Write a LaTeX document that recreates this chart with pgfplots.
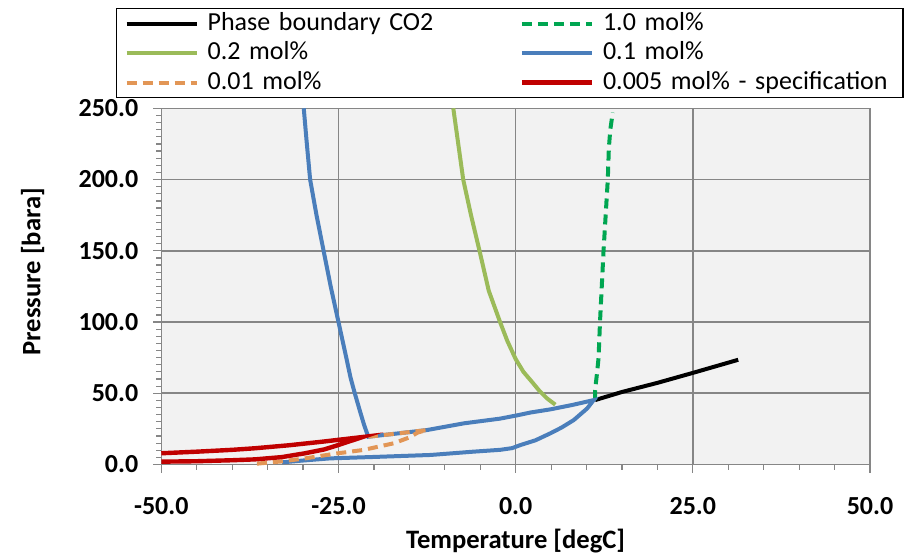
\documentclass[border=0pt]{standalone}
\usepackage{fontspec}
\setmainfont{Carlito}
\usepackage{pgfplots}
\pgfplotsset{compat=1.18}
\definecolor{gridgray}{RGB}{134,134,134}
\definecolor{bgcol}{RGB}{242,242,242}
\definecolor{cgreen}{RGB}{0,166,81}
\definecolor{colive}{RGB}{155,187,89}
\definecolor{cblue}{RGB}{74,126,187}
\definecolor{corange}{RGB}{226,150,86}
\definecolor{cred}{RGB}{192,0,0}
\begin{document}
\begin{tikzpicture}
\useasboundingbox (0,0) rectangle (454pt,276.5pt);
\begin{axis}[
  at={(80.65pt,44.25pt)}, anchor=south west,
  scale only axis, width=354.35pt, height=178.1pt,
  xmin=-50, xmax=50, ymin=0, ymax=250,
  xtick={-50,-25,0,25,50}, ytick={0,50,100,150,200,250},
  minor x tick num=4, minor y tick num=9,
  tick align=outside, xtick pos=bottom, ytick pos=left,
  major tick length=4pt, minor tick length=2.5pt,
  every tick/.style={gridgray, line width=0.6pt},
  grid=major, major grid style={gridgray, line width=0.8pt},
  axis line style={gridgray, line width=0.8pt},
  axis background/.style={fill=bgcol},
  /pgf/number format/.cd, fixed, fixed zerofill, precision=1, assume math mode=true,
  /pgfplots/.cd,
  tick label style={font=\bfseries\fontsize{13}{15}\selectfont, black},
  xticklabel style={yshift=-9pt},
  yticklabel style={xshift=-4pt},
  xlabel={Temperature [degC]}, ylabel={Pressure [bara]},
  every axis x label/.style={at={(axis description cs:0.5,-0.237)}, anchor=base, font=\bfseries\fontsize{13.3}{16}\selectfont},
  every axis y label/.style={at={(axis description cs:-0.1817,0.541)}, rotate=90, anchor=center, font=\bfseries\fontsize{13.3}{16}\selectfont},
  clip=false,
  legend columns=2,
  legend cell align=left,
  legend image code/.code={\draw[#1] (0pt,0pt) -- (35pt,0pt);},
  legend style={at={(-0.0639,1.2816)}, anchor=north west, draw=black, line width=0.6pt,
    fill=white, inner xsep=4pt, inner ysep=0.5pt, row sep=0.75pt,
    font=\fontsize{13}{15}\selectfont,
    nodes={inner xsep=1pt, inner ysep=1pt, text height=9.2pt, text depth=2.8pt, text width=145pt, align=left},
    /tikz/every odd column/.append style={column sep=3.5pt},
    /tikz/every even column/.append style={column sep=10pt}},
]
% Phase boundary CO2
\addplot[black, line width=2pt] coordinates {(11.2,45.2) (15,50.9) (20,57.3) (25,64.3) (31.4,73.5)};
\addlegendentry{Phase boundary CO2}
% 1.0 mol%
\addplot[cgreen, line width=2pt, dash pattern=on 5pt off 3pt] coordinates {(11.2,45.2) (11.2,52) (11.5,65) (11.7,75) (11.9,100) (12.15,125) (12.4,150) (12.7,175) (13.0,200) (13.15,222) (13.35,235) (13.7,247)};
\addlegendentry{1.0 mol\%}
% 0.2 mol%
\addplot[colive, line width=2pt] coordinates {(-8.8,250) (-8.1,225) (-7.4,200) (-6.3,175) (-5.1,150) (-3.8,122) (-2.2,100) (-1.2,87) (0.0,74) (1.1,65) (2.3,58) (3.3,52) (4.4,46.5) (5.6,42)};
\addlegendentry{0.2 mol\%}
% 0.1 mol%
\addplot[cblue, line width=2pt] coordinates {(-29.9,250) (-29.5,227) (-29.0,200) (-28.1,175) (-27.1,150) (-26.1,125) (-25.0,100) (-23.9,75) (-23.3,61) (-22.7,50) (-22.0,38) (-21.4,28) (-20.8,19.5)
 (-16.3,22) (-12.5,24.2) (-7.3,28.9) (-2.2,32.2) (0.2,34.5) (2.1,36.5) (4.9,38.7) (8,41.8) (11.0,45.2)
 (10.1,39.4) (8.2,31.2) (6.5,26) (4.9,21.9) (2.8,17) (0.7,13.7) (-0.5,11.5) (-2.2,10.3) (-6,9) (-12,6.7) (-20,5.3) (-26.2,4.3) (-30,2.8) (-33,1.5)};
\addlegendentry{0.1 mol\%}
% 0.01 mol%
\addplot[corange, line width=2pt, dash pattern=on 5pt off 3pt] coordinates {(-36.5,0.6) (-33,2.2) (-29.7,4.3) (-25.5,7.6) (-21.5,10.2) (-17.2,14.9) (-15,19) (-13.8,22.5) (-12.5,24.2) (-16.3,22) (-20.8,19.5)};
\addlegendentry{0.01 mol\%}
% 0.005 mol%
\addplot[cred, line width=2.2pt] coordinates {(-50,7.9) (-45,9.0) (-40,10.3) (-36.8,11.4) (-32,13.5) (-27.3,16) (-21.6,19.3)
 (-23.3,16.5) (-25,13.7) (-27,10.6) (-29.7,7.9) (-33,5.2) (-36.8,3.6) (-40,3) (-45,2.3) (-50,2)};
\addlegendentry{0.005 mol\% - specification}
\end{axis}
\end{tikzpicture}
\end{document}
